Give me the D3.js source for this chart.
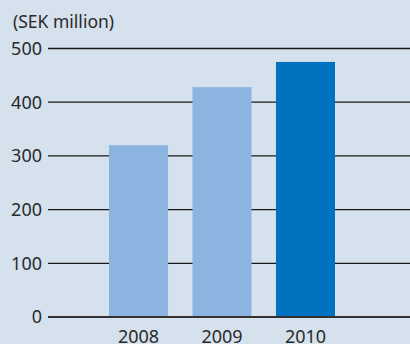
<!DOCTYPE html>
<html>
<head>
<meta charset="utf-8">
<title>SEK million</title>
<style>
body{
  margin:0;
  background:#d5e1ed}

svg{
  display:block}

text{
  font-family:"Noto Sans", sans-serif;
  fill:#2a2a2a}
</style>
<script src="https://cdn.jsdelivr.net/npm/d3@7"></script>
</head>
<body>
<script>
// Data.
const years = ['2008', '2009', '2010']
const values = [320, 428, 475]
const barColors = ['#8cb4e1', '#8cb4e1', '#0072bf']
const yTicks = [0, 100, 200, 300, 400, 500]

const W = 410, H = 344

const svg = d3.select('body')
  .append('svg')
    .attr('width', W)
    .attr('height', H)

svg.append('rect')
    .attr('width', W)
    .attr('height', H)
    .attr('fill', '#d5e1ed')

// Scales.
const x = d3.scaleBand()
  .domain(years)
  .range([109, 335])
  .paddingInner(0.293)

const y = d3.scaleLinear()
  .domain([0, 500])
  .range([317, 48.5])

// Grid lines behind the bars.
svg.append('g')
  .selectAll('line')
  .data(yTicks.filter(d => d > 0))
  .enter().append('line')
    .attr('x1', 48)
    .attr('x2', W)
    .attr('y1', d => y(d))
    .attr('y2', d => y(d))
    .attr('stroke', '#1a1a1a')
    .attr('stroke-width', 1.3)

// Tick labels.
svg.append('g')
  .selectAll('text')
  .data(yTicks)
  .enter().append('text')
    .attr('x', 42)
    .attr('y', d => y(d))
    .attr('dy', '0.36em')
    .attr('text-anchor', 'end')
    .style('font-size', '18px')
    .text(d => d)

// Bars.
svg.append('g')
  .selectAll('rect')
  .data(values)
  .enter().append('rect')
    .attr('x', (d, i) => x(years[i]))
    .attr('y', d => y(d))
    .attr('width', x.bandwidth())
    .attr('height', d => y(0) - y(d))
    .attr('fill', (d, i) => barColors[i])

// Baseline.
svg.append('line')
    .attr('x1', 48)
    .attr('x2', W)
    .attr('y1', y(0))
    .attr('y2', y(0))
    .attr('stroke', '#333')
    .attr('stroke-width', 2)

// Year labels.
svg.append('g')
  .selectAll('text')
  .data(years)
  .enter().append('text')
    .attr('x', d => x(d) + x.bandwidth() / 2)
    .attr('y', 343)
    .attr('text-anchor', 'middle')
    .style('font-size', '18px')
    .text(d => d)

// Unit label.
svg.append('text')
    .attr('x', 13)
    .attr('y', 28)
    .style('font-size', '17.5px')
    .text('(SEK million)')
</script>
</body>
</html>
